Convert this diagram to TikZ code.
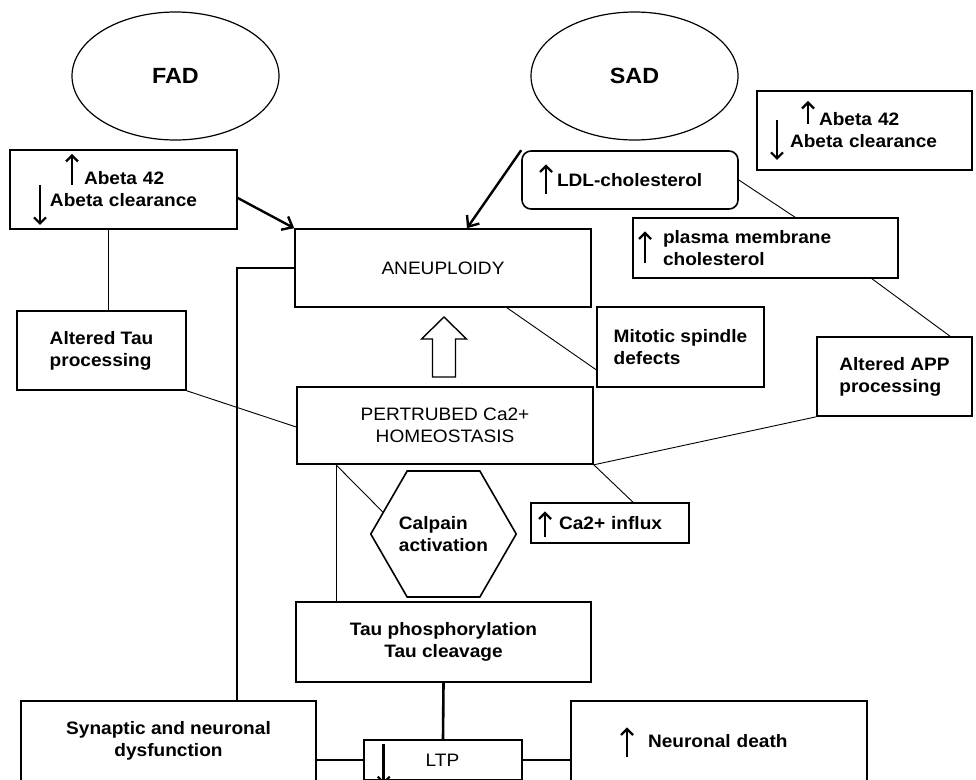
\documentclass[tikz,border=0pt]{standalone}
\usepackage{fontspec}
\setmainfont{Liberation Sans}[FakeStretch=1.06]
\usetikzlibrary{shapes.geometric}
\usetikzlibrary{arrows.meta}
\usetikzlibrary{calc}

% tall up/down marks: #1 height, #2 drop below baseline
\newcommand{\uparr}[2]{\makebox[14pt]{\smash{\tikz[baseline={(0pt,#2)}]\draw[line width=2.6pt,
  -{Straight Barb[length=6pt,width=12pt,line width=2.2pt]}] (0pt,0pt) -- (0pt,#1);}}}
\newcommand{\dnarr}[2]{\makebox[14pt]{\smash{\tikz[baseline={(0pt,#2)}]\draw[line width=2.6pt,
  -{Straight Barb[length=6pt,width=12pt,line width=2.2pt]}] (0pt,#1) -- (0pt,0pt);}}}

\begin{document}
\begin{tikzpicture}[x=1pt, y=-1pt,
  box/.style={draw, line width=1.6pt, inner sep=0pt, align=center,
    font=\fontsize{18}{22}\selectfont\bfseries},
  plain/.style={font=\fontsize{18}{22}\selectfont},
  oval/.style={ellipse, draw, line width=1.2pt, minimum width=207pt, minimum height=128pt,
    font=\fontsize{22}{26}\selectfont\bfseries},
  thinlink/.style={line width=0.9pt},
  thicklink/.style={line width=2.6pt},
  feed/.style={line width=2.4pt, -{Straight Barb[length=9pt,width=15pt,line width=2.4pt]}}]

        \useasboundingbox (0,0) rectangle (976,779);

        % Draw the two causes
        \node[oval] (fad) at (175.5,76) {FAD};
        \node[oval] (sad) at (634.5,76) {SAD};

        % Draw the boxes
        \node[box, minimum width=227pt, minimum height=79pt, align=left, inner xsep=23pt, text width=181pt] (fadbox) at (123.5,189.5)
          {\hspace*{32pt}\uparr{31pt}{0pt}\hspace{5pt}Abeta 42\\\dnarr{40pt}{18pt}\hspace{3pt}Abeta clearance};
        \node[box, minimum width=215pt, minimum height=79pt, align=left, inner xsep=13pt, text width=189pt] (sadbox) at (864.5,130.5)
          {\hspace*{31pt}\uparr{23pt}{-2pt}\hspace{4pt}Abeta 42\\\dnarr{40pt}{12pt}\hspace{6pt}Abeta clearance};
        \node[box, rounded corners=9pt, minimum width=216pt, minimum height=58pt, align=left, inner xsep=17pt, text width=182pt] (ldl) at (630,180)
          {\uparr{30pt}{8pt}\hspace{4pt}LDL-cholesterol};
        \node[box, minimum width=265pt, minimum height=60pt, align=left, inner xsep=5pt, text width=255pt] (plasma) at (765.5,248)
          {\uparr{32pt}{20pt}\hspace{11pt}plasma membrane\\\hspace*{25pt}cholesterol};
        \node[box, plain, minimum width=296pt, minimum height=78pt] (aneu) at (443,268) {ANEUPLOIDY};
        \node[box, minimum width=169pt, minimum height=79pt, align=left] (tau) at (101.5,350.5)
          {Altered Tau\\processing};
        \node[box, minimum width=167pt, minimum height=80pt, align=left] (mitotic) at (680.5,347)
          {Mitotic spindle\\defects};
        \node[box, minimum width=155pt, minimum height=79pt, align=left] (app) at (894.5,376.5)
          {Altered APP\\processing};
        \node[box, plain, minimum width=296pt, minimum height=77pt] (ca) at (445,425.5)
          {PERTRUBED Ca2+\\HOMEOSTASIS};
        \node[box, regular polygon, regular polygon sides=6, minimum size=137pt, align=left] (calp) at (443.5,534)
          {Calpain\\activation};
        \node[box, minimum width=158pt, minimum height=40pt, align=left, inner xsep=7pt, text width=144pt] (influx) at (610,523)
          {\uparr{26pt}{8pt}\hspace{7pt}Ca2+ influx};
        \node[box, minimum width=295pt, minimum height=80pt] (tauph) at (443.5,642)
          {Tau phosphorylation\\Tau cleavage};
        \node[box, minimum width=295pt, minimum height=80pt] (syn) at (168.5,741)
          {Synaptic and neuronal\\dysfunction};
        \node[box, plain, minimum width=158pt, minimum height=40pt] (ltp) at (443,760)
          {\dnarr{40pt}{18pt}\hspace{35pt}LTP\hspace{50pt}};
        \node[box, minimum width=296pt, minimum height=80pt, align=left, inner xsep=49pt, text width=198pt] (death) at (719,741)
          {\uparr{30pt}{10pt}\hspace{14pt}Neuronal death};

        % Arrows into aneuploidy
        \draw[feed] ([yshift=-8.5pt]fadbox.east) -- (aneu.north west);
        \draw[feed] (ldl.north west) -- ([xshift=24pt]aneu.north);
        \coordinate (mid) at ($(aneu.south)!0.5!(ca.north)$);
        \draw[line width=1.4pt] ([shift={(-11.5,30)}]mid) -- ++(0,-38) -- ++(-11,0) -- ++(22.5,-22)
          -- ++(22.5,22) -- ++(-11,0) -- ++(0,38) -- cycle;

        % Thin links
        \draw[thinlink] ([xshift=-15.5pt]fadbox.south) coordinate (t1) -- (t1 |- tau.north);
        \draw[thinlink] (ldl.east) -- ([xshift=29.5pt]plasma.north);
        \draw[thinlink] ([xshift=106.5pt]plasma.south) -- ([xshift=55.5pt]app.north);
        \draw[thinlink] ([xshift=64pt]aneu.south) -- ([yshift=18pt]mitotic.south west);
        \draw[thinlink] (tau.south east) -- ([yshift=-1.5pt]ca.west);
        \draw[thinlink] (ca.south east) -- (app.south west);
        \draw[thinlink] (ca.south east) -- ([xshift=23pt]influx.north);
        \draw[thinlink] ([xshift=-109pt]ca.south) coordinate (c1) -- (c1 |- tauph.north);
        \draw[thinlink] (c1) -- (calp.160);

        % Thick links
        \draw[thicklink] (aneu.west) -| ([xshift=68.5pt]syn.north);
        \draw[thicklink] (tauph.south) -- (ltp.north);
        \draw[thicklink] (ltp.west) -- (ltp.west -| syn.east);
        \draw[thicklink] (ltp.east) -- (ltp.east -| death.west);
      \end{tikzpicture}
\end{document}
